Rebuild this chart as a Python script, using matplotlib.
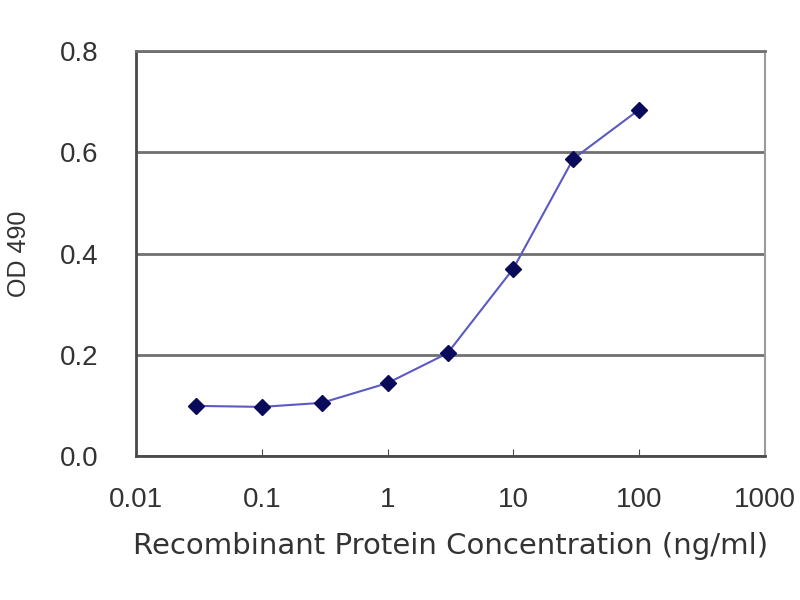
import matplotlib.pyplot as plt

# concentracion (ng/ml) y lectura OD 490
conc = [0.03, 0.1, 0.3, 1, 3, 10, 30, 100]
od490 = [0.099, 0.097, 0.105, 0.144, 0.203, 0.370, 0.587, 0.684]

x_ticks = [0.01, 0.1, 1, 10, 100, 1000]
x_labels = ["0.01", "0.1", "1", "10", "100", "1000"]
y_ticks = [0.0, 0.2, 0.4, 0.6, 0.8]
y_labels = ["0.0", "0.2", "0.4", "0.6", "0.8"]

plt.rcParams["font.family"] = ["Liberation Sans", "DejaVu Sans"]

fig = plt.figure(figsize=(8, 6), dpi=100)
ax = fig.add_axes([0.17, 0.24, 0.786, 0.675])

ax.plot(conc, od490, color="#5a5ac4", linewidth=1.5,
        marker="D", markersize=8, markerfacecolor="#0a0a5a",
        markeredgecolor="#0a0a5a", zorder=3)

ax.set_xscale("log")
ax.set_xlim(0.01, 1000)
ax.set_ylim(0, 0.8)
ax.minorticks_off()
ax.set_xticks(x_ticks)
ax.set_xticklabels(x_labels, family="Liberation Sans")
ax.set_yticks(y_ticks)
ax.set_yticklabels(y_labels, family="Liberation Sans")

# lineas guia
ax.grid(axis="y", color="#707070", linewidth=2)
ax.set_axisbelow(True)

ax.spines["left"].set_color("#4a4a4a")
ax.spines["left"].set_linewidth(2)
ax.spines["bottom"].set_color("#4a4a4a")
ax.spines["bottom"].set_linewidth(2)
ax.spines["right"].set_color("#9a9a9a")
ax.spines["right"].set_linewidth(1.5)
ax.spines["top"].set_color("#707070")
ax.spines["top"].set_linewidth(2)

ax.tick_params(axis="x", direction="in", length=5, color="#4a4a4a",
               labelsize=20, labelcolor="#333333", pad=22)
ax.tick_params(axis="y", length=0, labelsize=20, labelcolor="#333333", pad=27)

# el titulo del eje x va algo mas ancho, como en el original
ax.set_xlabel("Recombinant Protein Concentration (ng/ml)", fontsize=21,
              fontfamily="DejaVu Sans", color="#333333", labelpad=14)
ax.set_ylabel("OD 490", fontsize=18, fontfamily="Liberation Sans",
              color="#333333", labelpad=21)

plt.savefig("out.png", dpi=100)
